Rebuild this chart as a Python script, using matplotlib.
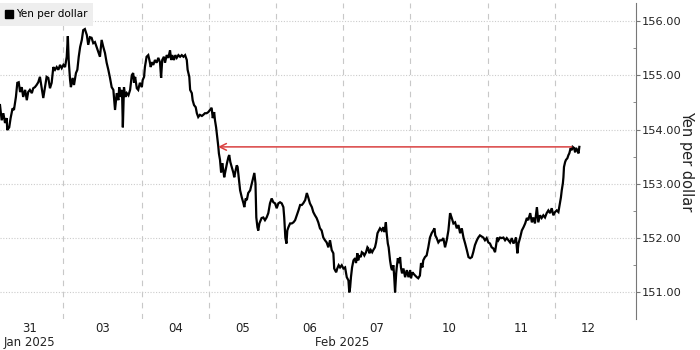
import numpy as np
import matplotlib.pyplot as plt
from matplotlib.lines import Line2D
from matplotlib.ticker import MultipleLocator, FormatStrFormatter
import matplotlib.transforms as mtransforms

# trading hours since the first print (weekend gaps removed)
hours = [
    0.0, 0.6, 1.2, 1.8, 2.4, 2.6, 3.3, 3.8, 4.5, 5.0, 5.7, 6.2, 6.7, 7.2, 7.8, 8.3,
    9.0, 9.6, 10.1, 10.7, 11.4, 11.9, 12.5, 13.1, 13.7, 14.3, 14.9, 15.5, 16.1, 16.7,
    17.3, 17.9, 18.5, 19.1, 19.7, 20.3, 20.9, 21.5, 22.1, 22.7, 23.3, 23.9, 24.3, 24.6,
    25.1, 25.4, 26.0, 26.5, 27.2, 27.7, 28.2, 28.7, 29.3, 29.8, 30.4, 31.1, 31.6, 32.2,
    32.8, 33.4, 34.0, 34.6, 35.2, 35.8, 36.4, 37.0, 37.6, 38.2, 38.8, 39.4, 40.0, 40.6,
    41.2, 41.8, 42.4, 42.7, 43.2, 43.7, 44.0, 44.4, 44.9, 45.4, 46.0, 46.6, 47.2, 47.7,
    48.0, 48.4, 49.0, 49.5, 50.1, 50.8, 51.1, 51.6, 51.9, 52.5, 53.1, 53.5, 54.0, 54.3,
    54.9, 55.5, 56.1, 56.7, 57.3, 57.7, 58.1, 58.7, 59.1, 59.7, 60.3, 60.9, 61.3, 61.7,
    62.3, 62.8, 63.3, 63.9, 64.5, 65.1, 65.7, 66.3, 66.9, 67.2, 67.8, 68.1, 68.7, 69.0,
    69.5, 70.1, 70.5, 71.0, 71.6, 72.3, 72.8, 73.4, 74.0, 74.6, 75.2, 75.8, 76.2, 76.7,
    77.0, 77.4, 77.8, 78.2, 78.4, 78.8, 79.2, 79.6, 80.0, 80.3, 80.8, 81.3, 81.8, 82.1,
    82.5, 83.0, 83.6, 83.9, 84.4, 84.8, 85.1, 85.6, 86.0, 86.6, 87.2, 87.5, 88.0, 88.4,
    88.9, 89.6, 90.2, 90.7, 91.1, 91.5, 91.8, 92.2, 92.5, 92.9, 93.4, 93.7, 94.3, 94.9,
    95.5, 96.1, 96.7, 97.3, 97.9, 98.5, 99.1, 99.7, 100.3, 100.9, 101.5, 101.8, 102.2,
    102.6, 102.9, 103.3, 103.9, 104.5, 105.1, 105.7, 106.3, 106.9, 107.5, 108.1, 108.6,
    109.3, 109.9, 110.4, 111.0, 111.7, 112.2, 112.8, 113.4, 114.0, 114.6, 115.2, 115.8,
    116.4, 117.0, 117.6, 118.2, 118.8, 119.4, 119.7, 120.4, 120.8, 121.3, 121.8, 122.4,
    123.0, 123.6, 124.2, 124.8, 125.1, 125.4, 125.7, 126.1, 126.6, 127.2, 127.5, 128.0,
    128.3, 128.7, 129.2, 129.6, 130.1, 130.5, 131.1, 131.6, 131.9, 132.3, 132.8, 133.3,
    133.7, 134.3, 134.7, 135.2, 135.7, 136.1, 136.7, 137.3, 137.7, 138.2, 138.5, 138.9,
    139.2, 139.7, 140.1, 140.4, 140.9, 141.2, 141.5, 141.9, 142.1, 142.5, 142.8, 143.3,
    143.6, 144.0, 144.5, 145.1, 145.7, 146.3, 146.9, 147.2, 147.7, 148.0, 148.7, 149.3,
    149.8, 150.4, 150.8, 151.3, 151.6, 152.2, 152.8, 153.4, 154.0, 154.6, 155.2, 155.6,
    155.9, 156.4, 157.0, 157.6, 158.2, 158.8, 159.4, 160.0, 160.6, 161.2, 161.8, 162.4,
    163.0, 163.6, 164.2, 164.8, 165.4, 166.0, 166.6, 167.2, 167.8, 168.4, 169.0, 169.5,
    170.1, 170.8, 171.3, 171.9, 172.5, 173.1, 173.7, 174.3, 174.9, 175.5, 176.1, 176.7,
    177.3, 177.7, 178.1, 178.5, 179.1, 179.7, 180.3, 180.9, 181.5, 182.1, 182.7, 183.3,
    183.9, 184.5, 184.8, 185.3, 185.7, 186.3, 186.9, 187.5, 188.1, 188.7, 189.2, 189.9,
    190.5, 191.0, 191.6, 192.3, 192.8, 193.4, 194.0, 194.6, 195.2, 195.8, 196.4, 197.0,
    197.6, 198.2, 198.8, 199.4, 200.0, 200.3, 200.9, 201.2, 201.6, 201.8, 202.0, 202.4,
    202.7, 203.2, 203.6, 203.9, 204.4, 204.8, 205.1, 205.6, 206.0, 206.3, 206.8, 207.2,
    207.5,
]

yen = [
    154.45, 154.17, 154.30, 154.12, 154.21, 153.99, 154.04, 154.21, 154.39, 154.36,
    154.60, 154.86, 154.87, 154.69, 154.78, 154.60, 154.73, 154.54, 154.69, 154.73,
    154.67, 154.76, 154.78, 154.82, 154.87, 154.97, 154.78, 154.58, 154.78, 154.97,
    154.95, 154.76, 154.86, 155.15, 155.10, 155.15, 155.10, 155.19, 155.13, 155.19,
    155.15, 155.34, 155.72, 155.28, 154.91, 154.78, 154.95, 154.82, 155.04, 155.10,
    155.34, 155.52, 155.65, 155.83, 155.85, 155.74, 155.56, 155.70, 155.69, 155.59,
    155.61, 155.52, 155.43, 155.34, 155.65, 155.52, 155.41, 155.23, 155.10, 154.95,
    154.78, 154.73, 154.36, 154.67, 154.54, 154.78, 154.60, 154.73, 154.04, 154.78,
    154.60, 154.67, 154.63, 154.73, 155.00, 155.04, 154.86, 154.97, 154.76, 154.73,
    154.86, 154.78, 154.91, 154.97, 155.15, 155.34, 155.37, 155.28, 155.15, 155.24,
    155.19, 155.28, 155.23, 155.32, 155.24, 154.95, 155.28, 155.34, 155.23, 155.37,
    155.32, 155.46, 155.28, 155.37, 155.28, 155.37, 155.32, 155.37, 155.34, 155.37,
    155.34, 155.37, 155.28, 155.10, 154.97, 154.73, 154.67, 154.54, 154.45, 154.41,
    154.30, 154.23, 154.27, 154.25, 154.27, 154.30, 154.30, 154.32, 154.36, 154.40,
    154.21, 154.32, 154.17, 154.04, 153.86, 153.68, 153.56, 153.44, 153.21, 153.38,
    153.25, 153.12, 153.25, 153.38, 153.49, 153.53, 153.40, 153.31, 153.20, 153.12,
    153.25, 153.34, 153.31, 153.07, 152.88, 152.75, 152.64, 152.57, 152.73, 152.70,
    152.83, 152.88, 153.01, 153.12, 153.20, 153.01, 152.38, 152.20, 152.14, 152.27,
    152.33, 152.37, 152.38, 152.33, 152.38, 152.46, 152.64, 152.73, 152.66, 152.64,
    152.55, 152.64, 152.66, 152.64, 152.57, 152.38, 152.01, 151.90, 152.14, 152.20,
    152.27, 152.27, 152.29, 152.33, 152.42, 152.51, 152.61, 152.61, 152.64, 152.70,
    152.83, 152.75, 152.64, 152.57, 152.48, 152.42, 152.37, 152.29, 152.18, 152.14,
    152.01, 151.96, 151.92, 151.83, 151.96, 151.78, 151.72, 151.44, 151.37, 151.44,
    151.50, 151.46, 151.50, 151.44, 151.46, 151.28, 151.22, 151.00, 151.09, 151.28,
    151.46, 151.59, 151.63, 151.54, 151.72, 151.59, 151.68, 151.65, 151.74, 151.72,
    151.68, 151.74, 151.83, 151.81, 151.72, 151.78, 151.74, 151.78, 151.83, 151.92,
    152.09, 152.14, 152.18, 152.14, 152.20, 152.11, 152.29, 152.09, 151.90, 151.83,
    151.59, 151.46, 151.41, 151.50, 151.28, 151.00, 151.35, 151.46, 151.63, 151.54,
    151.65, 151.46, 151.35, 151.44, 151.28, 151.41, 151.28, 151.41, 151.26, 151.37,
    151.35, 151.31, 151.28, 151.26, 151.31, 151.54, 151.46, 151.59, 151.65, 151.68,
    151.83, 152.01, 152.09, 152.14, 152.18, 152.05, 152.00, 151.92, 151.96, 151.96,
    152.00, 151.83, 151.96, 152.14, 152.46, 152.37, 152.27, 152.29, 152.18, 152.24,
    152.09, 152.18, 152.01, 151.90, 151.78, 151.65, 151.63, 151.65, 151.74, 151.87,
    151.96, 152.01, 152.05, 152.03, 152.01, 151.96, 152.00, 151.92, 151.90, 151.83,
    151.81, 151.74, 151.87, 152.01, 151.96, 152.01, 152.00, 152.01, 151.96, 152.00,
    151.96, 151.92, 152.00, 151.90, 151.96, 152.01, 151.72, 151.90, 152.01, 152.14,
    152.20, 152.27, 152.37, 152.33, 152.46, 152.29, 152.38, 152.27, 152.57, 152.29,
    152.42, 152.37, 152.42, 152.38, 152.46, 152.51, 152.46, 152.55, 152.42, 152.48,
    152.51, 152.48, 152.57, 152.75, 152.88, 153.01, 153.12, 153.31, 153.40, 153.44,
    153.47, 153.53, 153.56, 153.66, 153.62, 153.68, 153.66, 153.58, 153.66, 153.62,
    153.56, 153.68,
]

day_labels = ['31', '03', '04', '05', '06', '07', '10', '11', '12']
day_edges = [-1.4, 22.6, 50.9, 74.9, 98.9, 122.9, 146.9, 174.8, 198.8, 222.8]
month_labels = ['Jan 2025', 'Feb 2025']
month_edges = [(-1.4, 22.6), (22.6, 222.8)]

# red arrow from the latest level back to where it was last seen
arrow_level = 153.68
arrow_from, arrow_to = 204.8, 78.1

fig = plt.figure(figsize=(7, 3.5), dpi=100)
ax = fig.add_axes([0, 0.0886, 0.9086, 0.9028])

ax.plot(hours, yen, color='black', lw=1.6, solid_joinstyle='miter', zorder=3)

ax.annotate('', xy=(arrow_to, arrow_level), xytext=(arrow_from, arrow_level),
            arrowprops=dict(arrowstyle='->', color='#d94040', lw=1.1,
                            shrinkA=0, shrinkB=0, mutation_scale=12),
            zorder=4)

ax.set_xlim(0, 227.8)
ax.set_ylim(150.51, 156.33)

# gridlines
for e in day_edges[1:-1]:
    ax.axvline(e, color='#c8c8c8', lw=0.8, ls=(0, (5, 5)), zorder=1)
ax.yaxis.set_major_locator(MultipleLocator(1))
ax.yaxis.set_minor_locator(MultipleLocator(0.5))
ax.yaxis.set_major_formatter(FormatStrFormatter('%.2f'))
ax.grid(axis='y', which='major', color='#cccccc', lw=0.8, ls=(0, (1, 1.5)), zorder=1)

# right axis
ax.yaxis.tick_right()
ax.yaxis.set_label_position('right')
for s in ['left', 'top', 'bottom']:
    ax.spines[s].set_visible(False)
ax.spines['right'].set_color('#777777')
ax.tick_params(axis='y', which='major', length=3, color='#777777',
               labelsize=8.2, labelcolor='#222222', pad=1)
ax.tick_params(axis='y', which='minor', length=2, color='#777777', direction='in')
ax.set_ylabel('Yen per dollar', rotation=270, fontsize=10.5, color='#222222',
              labelpad=9)

# day ticks at centres of each trading day
centers = [(a + b) / 2 for a, b in zip(day_edges[:-1], day_edges[1:])]
ax.set_xticks(centers)
ax.set_xticklabels(day_labels)
ax.tick_params(axis='x', length=0, labelsize=8.5, labelcolor='#222222', pad=2)

trans = mtransforms.blended_transform_factory(ax.transData, ax.transAxes)
for lab, (a, b) in zip(month_labels, month_edges):
    ax.text((a + b) / 2, -0.074, lab, transform=trans, ha='center', va='center',
            fontsize=8.5, color='#222222')

handle = Line2D([], [], color='black', marker='s', ls='none', markersize=5.5)
leg = ax.legend([handle], ['Yen per dollar'], loc='upper left', fontsize=7.5,
                frameon=True, fancybox=False, borderaxespad=0.0,
                handlelength=0.6, handletextpad=0.3, borderpad=0.6)
leg.get_frame().set_facecolor('#eeeeee')
leg.get_frame().set_edgecolor('none')
leg.get_frame().set_alpha(1)

fig.savefig('out.png', dpi=100)
